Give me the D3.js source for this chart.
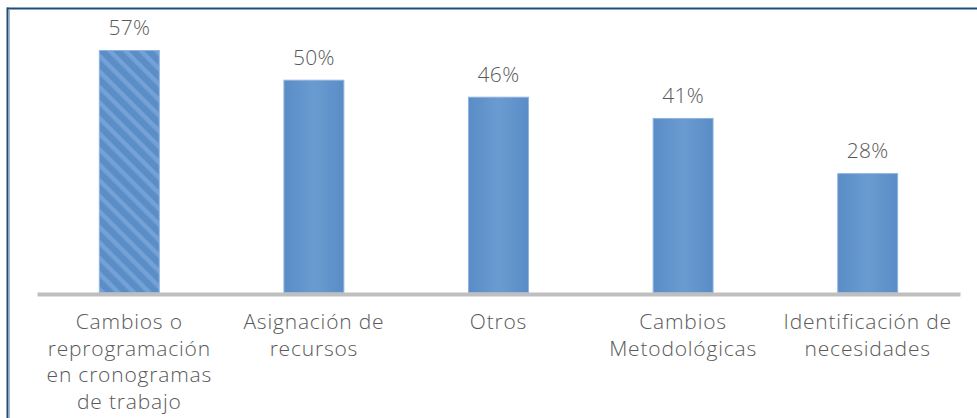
<!DOCTYPE html>
<html>
<head>
<meta charset="utf-8">
<script src="https://cdn.jsdelivr.net/npm/d3@7"></script>
<style>
  body { margin: 0; background: #fff; }
  svg { display: block; font-family: "Open Sans", Lato, sans-serif; font-weight: 300; }
</style>
</head>
<body>
<div id="chart"></div>
<script>
// Data
const categories = [
  "Cambios o reprogramación en cronogramas de trabajo",
  "Asignación de recursos",
  "Otros",
  "Cambios Metodológicas",
  "Identificación de necesidades"
];
const labelLines = [
  ["Cambios o", "reprogramación", "en cronogramas", "de trabajo"],
  ["Asignación de", "recursos"],
  ["Otros"],
  ["Cambios", "Metodológicas"],
  ["Identificación de", "necesidades"]
];
const values = [57, 50, 46, 41, 28];
const striped = [true, false, false, false, false];

const width = 977
const height = 418
const margin = { top: 50, right: 17, bottom: 126, left: 37 }

const svg = d3.select("#chart")
  .append("svg")
  .attr("width", width)
  .attr("height", height);

// Pattern and gradient for the bars
const defs = svg.append("defs");

const grad = defs.append("linearGradient")
  .attr("id", "barFill")
  .attr("x1", "0%").attr("x2", "100%")
  .attr("y1", "0%").attr("y2", "0%");
grad.append("stop").attr("offset", "0%").attr("stop-color", "#5a8cc7");
grad.append("stop").attr("offset", "50%").attr("stop-color", "#6a9bd0");
grad.append("stop").attr("offset", "100%").attr("stop-color", "#5a8cc7");

const pat = defs.append("pattern")
  .attr("id", "stripes")
  .attr("patternUnits", "userSpaceOnUse")
  .attr("width", 11)
  .attr("height", 11)
  .attr("patternTransform", "rotate(45)");
pat.append("rect")
  .attr("width", 11).attr("height", 11)
  .attr("fill", "#5b8dc7");
pat.append("rect")
  .attr("width", 11).attr("height", 4.5)
  .attr("fill", "#74a1d6");

// Frame lines (top and left)
svg.append("line")
  .attr("x1", 7).attr("x2", 977)
  .attr("y1", 8.5).attr("y2", 8.5)
  .attr("stroke", "#1f4e79")
  .attr("stroke-width", 2);
svg.append("line")
  .attr("x1", 7.5).attr("x2", 7.5)
  .attr("y1", 7.5).attr("y2", height)
  .attr("stroke", "#1f4e79")
  .attr("stroke-width", 2);
svg.append("line")
  .attr("x1", 9.5).attr("x2", 9.5)
  .attr("y1", 9).attr("y2", height)
  .attr("stroke", "#9fb6cf")
  .attr("stroke-width", 1);

const x = d3.scaleBand()
  .domain(categories)
  .range([margin.left, width - margin.right])
  .paddingInner(0.67)
  .paddingOuter(0.335);

const baseY = height - margin.bottom
const y = d3.scaleLinear()
  .domain([0, d3.max(values)])
  .range([baseY, margin.top]);

// Bars
svg.selectAll("rect.bar")
  .data(values)
  .enter()
  .append("rect")
  .attr("class", "bar")
  .attr("x", (d, i) => x(categories[i]) + 0.5)
  .attr("y", d => y(d) + 0.5)
  .attr("width", x.bandwidth() - 1)
  .attr("height", d => baseY - y(d))
  .attr("fill", (d, i) => striped[i] ? "url(#stripes)" : "url(#barFill)")
  .attr("stroke", "#8fb3e0")
  .attr("stroke-width", 1);

// Baseline axis
const axis = svg.append("g")
  .attr("transform", "translate(0," + (baseY + 2) + ")")
  .call(d3.axisBottom(x).tickSize(0).tickFormat(""));
axis.select(".domain")
  .attr("stroke", "#bfbfbf")
  .attr("stroke-width", 4);

// Value labels
svg.selectAll("text.value")
  .data(values)
  .enter()
  .append("text")
  .attr("class", "value")
  .attr("x", (d, i) => x(categories[i]) + x.bandwidth() / 2)
  .attr("y", d => y(d) - 15)
  .attr("text-anchor", "middle")
  .attr("fill", "#595959")
  .style("font-size", "21px")
  .style("letter-spacing", "0.3px")
  .text(d => d + "%");

// Category labels
const cat = svg.selectAll("text.cat")
  .data(categories)
  .enter()
  .append("text")
  .attr("class", "cat")
  .attr("x", d => x(d) + x.bandwidth() / 2)
  .attr("y", baseY + 37)
  .attr("text-anchor", "middle")
  .attr("fill", "#595959")
  .style("font-size", "21px")
  .style("letter-spacing", "0.8px");

cat.each(function (d, i) {
  d3.select(this).selectAll("tspan")
    .data(labelLines[i])
    .enter()
    .append("tspan")
    .attr("x", x(d) + x.bandwidth() / 2)
    .attr("dy", (t, j) => j === 0 ? 0 : 26.5)
    .text(t => t);
});
</script>
</body>
</html>
